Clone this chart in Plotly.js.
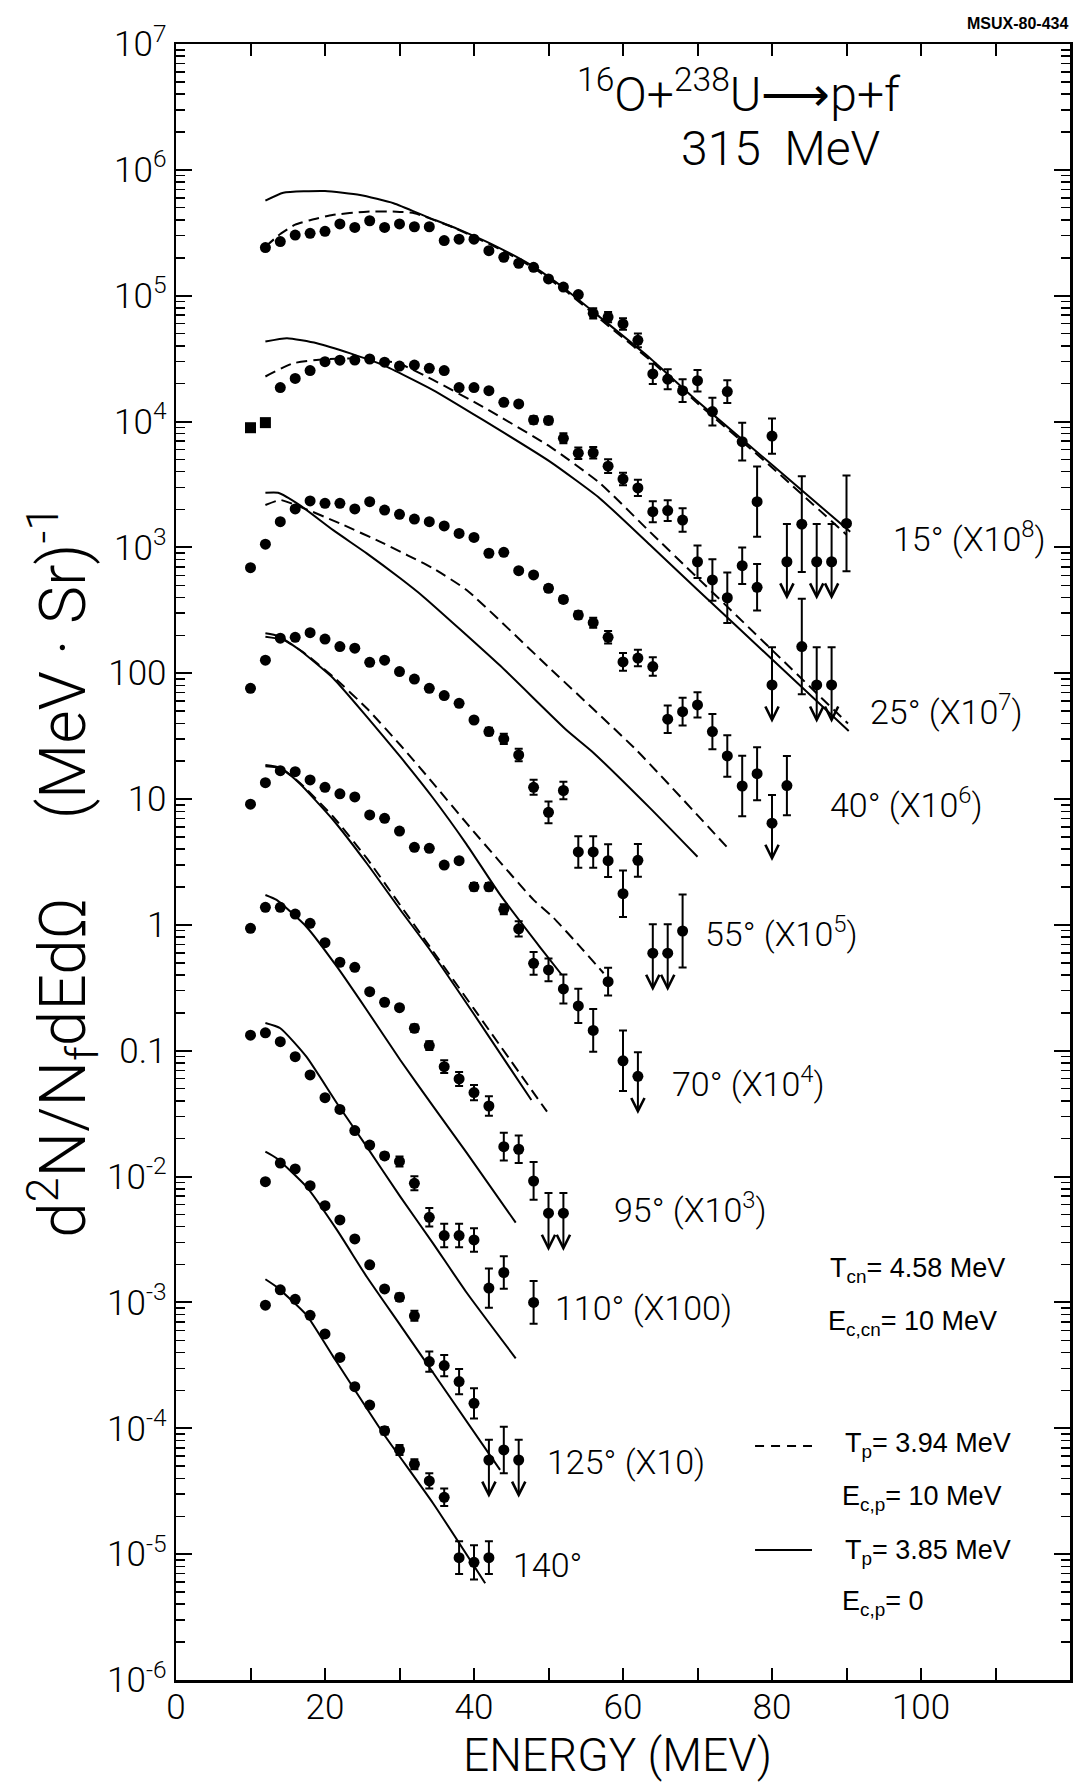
<!DOCTYPE html>
<html>
<head>
<meta charset="utf-8">
<script src="https://cdn.plot.ly/plotly-3.0.1.min.js"></script>
<style>
  html, body { margin: 0; padding: 0; background: #fff; }
  #chart { width: 1078px; height: 1786px; }
</style>
</head>
<body>
<div id="chart"></div>
<script>
// Proton spectra measured in coincidence with fission, 16O + 238U at 315 MeV.
// Every angle is plotted multiplied by the factor written beside it.
// ERRxx: half-length of each error bar in decades; LIMxx: energies that are upper limits.

// ---- 15 deg (x1e8) ----
const E15 = [12,14,16,18,20,22,24,26,28,30,32,34,36,38,40,42,44,46,48,50,52,54,56,58,60,62,64,66,68,70,72,74,76,78,80,82,84,86,88,90];
const Y15 = [2.41e5,2.69e5,3.03e5,3.13e5,3.25e5,3.72e5,3.49e5,3.94e5,3.49e5,3.72e5,3.53e5,3.53e5,2.74e5,2.81e5,2.81e5,2.28e5,2.02e5,1.81e5,1.68e5,1.36e5,1.17e5,1.02e5,7.24e4,6.76e4,5.96e4,4.42e4,2.39e4,2.17e4,1.76e4,2.11e4,1.20e4,1.73e4,6.92e3,2.31e3,7.67e3,769,1.53e3,769,769,1.55e3];
const ERR15 = [0,0,0,0,0,0,0,0,0,0,0,0,0,0,0,0,0,0,0,0,0,0,0.04,0.04,0.045,0.055,0.08,0.08,0.09,0.085,0.11,0.09,0.15,0.28,0.14,0.30,0.38,0.30,0.30,0.38];
const LIM15 = [82,86,88];

// ---- 25 deg (x1e7) ----
const E25 = [10,12,14,16,18,20,22,24,26,28,30,32,34,36,38,40,42,44,46,48,50,52,54,56,58,60,62,64,66,68,70,72,74,76,78,80,84,86,88];
const Y25 = [8.93e3,9.8e3,1.86e4,2.20e4,2.54e4,2.99e4,3.07e4,3.08e4,3.14e4,2.96e4,2.76e4,2.81e4,2.65e4,2.54e4,1.86e4,1.86e4,1.76e4,1.42e4,1.38e4,1.03e4,1.02e4,7.36e3,5.60e3,5.65e3,4.42e3,3.49e3,2.97e3,1.92e3,1.96e3,1.65e3,769,551,398,716,482,80.7,163,80.7,80.7];
const ERR25 = [0,0,0,0,0,0,0,0,0,0,0,0,0,0,0,0,0,0,0,0.03,0.03,0.04,0.045,0.045,0.055,0.05,0.065,0.083,0.083,0.093,0.13,0.165,0.2,0.145,0.185,0.3,0.38,0.3,0.3];
const LIM25 = [80,86,88];
const SQUARE25 = [10,12];

// ---- 40 deg (x1e6) ----
const E40 = [10,12,14,16,18,20,22,24,26,28,30,32,34,36,38,40,42,44,46,48,50,52,54,56,58,60,62,64,66,68,70,72,74,76,78,80,82];
const Y40 = [690,1.06e3,1.60e3,2.02e3,2.34e3,2.24e3,2.24e3,2.02e3,2.31e3,1.98e3,1.83e3,1.68e3,1.60e3,1.48e3,1.29e3,1.20e3,898,914,653,604,473,386,290,252,193,123,132,113,43.1,49.5,56.0,34.4,22.0,12.7,15.9,6.43,12.8];
const ERR40 = [0,0,0,0,0,0,0,0,0,0,0,0,0,0,0,0,0,0,0,0,0.025,0.025,0.03,0.04,0.05,0.07,0.066,0.073,0.11,0.11,0.1,0.14,0.165,0.24,0.21,0.225,0.235];
const LIM40 = [80];

// ---- 55 deg (x1e5) ----
const E55 = [10,12,14,16,18,20,22,24,26,28,30,32,34,36,38,40,42,44,46,48,50,52,54,56,58,60,62,64,66,68];
const Y55 = [75.9,127,190,193,210,187,163,158,122,127,103,89.9,75.9,66.4,57.7,42.5,34.4,30.1,22.4,12.4,7.85,11.7,3.80,3.80,3.24,1.77,3.26,0.596,0.596,0.895];
const ERR55 = [0,0,0,0,0,0,0,0,0,0,0,0,0,0,0,0,0.03,0.04,0.05,0.06,0.086,0.07,0.125,0.125,0.13,0.185,0.13,0.23,0.23,0.29];
const LIM55 = [64,66];

// ---- 70 deg (x1e4) ----
const E70 = [10,12,14,16,18,20,22,24,26,28,30,32,34,36,38,40,42,44,46,48,50,52,54,56,58,60,62];
const Y70 = [9.10,13.5,16.8,16.5,14.2,12.4,11.0,10.4,7.48,7.03,5.57,4.14,4.06,2.99,3.24,2.01,2.01,1.33,0.931,0.495,0.439,0.310,0.227,0.145,0.354,0.0832,0.0627];
const ERR70 = [0,0,0,0,0,0,0,0,0,0,0,0,0,0,0,0.03,0.03,0.04,0.06,0.09,0.09,0.115,0.136,0.17,0.11,0.24,0.19];
const LIM70 = [62];

// ---- 95 deg (x1e3) ----
const E95 = [10,12,14,16,18,20,22,24,26,28,30,32,34,36,38,40,42,44,46,48,50,52];
const Y95 = [0.940,1.38,1.38,1.22,1.03,0.723,0.505,0.460,0.295,0.243,0.220,0.151,0.110,0.0748,0.0597,0.0465,0.0364,0.0173,0.0165,0.00923,0.00512,0.00512];
const ERR95 = [0,0,0,0,0,0,0,0,0,0,0,0.03,0.035,0.05,0.055,0.06,0.077,0.11,0.11,0.15,0.16,0.16];
const LIM95 = [50,52];

// ---- 110 deg (x100) ----
const E110 = [10,12,14,16,18,20,22,24,26,28,30,32,34,36,38,40,42,44,48];
const Y110 = [0.133,0.139,0.118,0.0897,0.0643,0.0424,0.0342,0.0232,0.0178,0.0146,0.0132,0.00885,0.00475,0.00340,0.00340,0.00314,0.00130,0.00173,0.00100];
const ERR110 = [0,0,0,0,0,0,0,0,0.02,0.025,0.04,0.055,0.073,0.093,0.093,0.093,0.155,0.13,0.17];
const LIM110 = [];

// ---- 125 deg (x10) ----
const E125 = [12,14,16,18,20,22,24,26,28,30,32,34,36,38,40,42,44,46];
const Y125 = [0.00912,0.0128,0.0115,0.00847,0.00587,0.00453,0.00320,0.00199,0.00128,0.00110,7.83e-4,3.39e-4,3.15e-4,2.35e-4,1.58e-4,5.60e-5,6.73e-5,5.60e-5];
const ERR125 = [0,0,0,0,0,0,0,0,0,0.03,0.04,0.08,0.085,0.1,0.12,0.16,0.185,0.16];
const LIM125 = [42,46];

// ---- 140 deg ----
const E140 = [12,14,16,18,20,22,24,26,28,30,32,34,36,38,40,42];
const Y140 = [9.51e-4,1.26e-3,1.06e-3,7.91e-4,5.62e-4,3.66e-4,2.14e-4,1.53e-4,9.57e-5,6.73e-5,5.18e-5,3.82e-5,2.83e-5,9.38e-6,8.61e-6,9.38e-6];
const ERR140 = [0,0,0,0,0,0,0,0,0.03,0.04,0.04,0.06,0.07,0.13,0.136,0.13];
const LIM140 = [];

// ---- model curves: solid (Tp = 3.85 MeV, Ec,p = 0), dashed (Tp = 3.94 MeV, Ec,p = 10 MeV) ----
const SOL15E = [12,14.4,20,24.7,29.2,33.6,38.1,43.5,48,52.4,57,63.6,70,80,90.5];
const SOL15Y = [5.69e5,6.58e5,6.79e5,6.31e5,5.43e5,4.25e5,3.33e5,2.38e5,1.70e5,1.11e5,6.68e4,3.20e4,1.45e4,4.53e3,1.33e3];
const DSH15E = [12,14,16,18,21,25.6,29.6,32,37.2,43.5,48,52.4,57,63.6,70,80,90];
const DSH15Y = [2.45e5,3.09e5,3.67e5,3.98e5,4.38e5,4.65e5,4.65e5,4.52e5,3.49e5,2.34e5,1.66e5,1.08e5,6.46e4,3.09e4,1.40e4,4.32e3,1.26e3];

const SOL25E = [12,14.9,18.9,23.4,27.8,34.5,41.2,50.2,56.9,63.6,70,80,90.3];
const SOL25Y = [4.32e4,4.59e4,4.19e4,3.48e4,2.81e4,1.78e4,1.03e4,4.80e3,2.45e3,1.05e3,461,129,34.7];
const DSH25E = [12,15.7,19.8,25.6,30,34.5,41.2,50.2,56.9,63.6,70,80,90.2];
const DSH25Y = [2.28e4,2.90e4,3.12e4,3.18e4,2.88e4,2.14e4,1.31e4,6.31e3,3.24e3,1.33e3,573,153,39.8];

const SOL40E = [12,13.7,16.6,21.1,25.6,30.1,33.2,43.5,52.4,55.8,63.6,70];
const SOL40Y = [2.72e3,2.72e3,2.17e3,1.37e3,897,568,406,115,35.4,24.0,8.51,3.48];
const DSH40E = [12,14,16.6,22,27.8,34.5,39,50,61.8,73.9];
const DSH40Y = [2.17e3,2.38e3,2.11e3,1.55e3,1.08e3,681,459,112,24.5,4.19];

const SOL55E = [12,13.7,16.6,21.1,25.6,30.1,34.5,39,43.5,48.9,51.8];
const SOL55Y = [208,198,153,91.2,45.2,21.7,10.2,4.37,1.74,0.661,0.400];
const DSH55E = [12,14.4,17,21.1,25.6,30.1,34.5,39,43.5,48,50.6,54.2,57.4];
const DSH55Y = [195,184,148,93.8,52.7,26.9,13.4,6.43,3.16,1.58,1.15,0.676,0.413];

const SOL70E = [12,14,16.6,21.1,25.6,30.1,34.1,40,47.7];
const SOL70Y = [18.7,17.8,13.3,6.82,3.09,1.32,0.632,0.195,0.0406];
const DSH70E = [12,14,16.6,21.1,25.6,29.6,34.5,40,49.8];
const DSH70Y = [18.2,17.6,13.5,7.24,3.39,1.58,0.617,0.215,0.0328];

const SOL95E = [12,13.5,17.5,21.6,25.6,30.1,34.5,39,45.6];
const SOL95Y = [1.73,1.58,0.968,0.466,0.211,0.0845,0.0363,0.0155,0.00431];

const SOL110E = [12,14,17.5,21.6,25.6,30.1,34.5,39,45.6];
const SOL110Y = [0.166,0.151,0.0897,0.0383,0.0173,0.00693,0.00295,0.00120,3.60e-4];

const SOL125E = [12,13.5,17.5,21.6,25.6,30.1,35,43.5];
const SOL125Y = [0.0158,0.0140,0.00832,0.00377,0.00160,6.61e-4,2.51e-4,4.67e-5];

const SOL140E = [12,13.5,17.5,21.1,27.8,34.5,41.5];
const SOL140Y = [1.53e-3,1.33e-3,7.96e-4,3.71e-4,9.14e-5,2.54e-5,5.87e-6];

// ---- axis ticks ----
const X_TICKS = [0,20,40,60,80,100];
const X_MINOR = [10,30,50,70,90,110];
const Y_TICKS = [1e7,1e6,1e5,1e4,1e3,100,10,1,0.1,1e-2,1e-3,1e-4,1e-5,1e-6];
const Y_LABELS = ['10<sup>7</sup>','10<sup>6</sup>','10<sup>5</sup>','10<sup>4</sup>','10<sup>3</sup>','100','10','1','0.1',
                  '10<sup>-2</sup>','10<sup>-3</sup>','10<sup>-4</sup>','10<sup>-5</sup>','10<sup>-6</sup>'];

// ---- drawing ----
const PLOT_FONT = 'Roboto, "Liberation Sans", Arial, sans-serif';
const NOTE_FONT = '"Liberation Sans", Arial, sans-serif';
const INK = '#000';
const DASH = '11px,6px';
const ARROW_DECADES = 0.3;

const SERIES = [
  {E:E15,  Y:Y15,  ERR:ERR15,  LIM:LIM15,  sol:[SOL15E,SOL15Y],   dsh:[DSH15E,DSH15Y]},
  {E:E25,  Y:Y25,  ERR:ERR25,  LIM:LIM25,  sol:[SOL25E,SOL25Y],   dsh:[DSH25E,DSH25Y], square:SQUARE25},
  {E:E40,  Y:Y40,  ERR:ERR40,  LIM:LIM40,  sol:[SOL40E,SOL40Y],   dsh:[DSH40E,DSH40Y]},
  {E:E55,  Y:Y55,  ERR:ERR55,  LIM:LIM55,  sol:[SOL55E,SOL55Y],   dsh:[DSH55E,DSH55Y]},
  {E:E70,  Y:Y70,  ERR:ERR70,  LIM:LIM70,  sol:[SOL70E,SOL70Y],   dsh:[DSH70E,DSH70Y]},
  {E:E95,  Y:Y95,  ERR:ERR95,  LIM:LIM95,  sol:[SOL95E,SOL95Y]},
  {E:E110, Y:Y110, ERR:ERR110, LIM:LIM110, sol:[SOL110E,SOL110Y]},
  {E:E125, Y:Y125, ERR:ERR125, LIM:LIM125, sol:[SOL125E,SOL125Y]},
  {E:E140, Y:Y140, ERR:ERR140, LIM:LIM140, sol:[SOL140E,SOL140Y]}
];

function curve(x, y, dash) {
  return {
    type: 'scatter', mode: 'lines', x: x, y: y, hoverinfo: 'skip', showlegend: false,
    line: {color: INK, width: 2, dash: dash, shape: 'spline', smoothing: 0.5}
  };
}

const traces = [];
SERIES.forEach(s => {
  if (s.sol) traces.push(curve(s.sol[0], s.sol[1], 'solid'));
  if (s.dsh) traces.push(curve(s.dsh[0], s.dsh[1], DASH));
});

const annotations = [];
SERIES.forEach(s => {
  const up = s.Y.map((y, i) => y * (Math.pow(10, s.ERR[i]) - 1));
  const dn = s.Y.map((y, i) => s.LIM.includes(s.E[i]) ? 0 : y * (1 - Math.pow(10, -s.ERR[i])));
  const sym = s.E.map(e => (s.square && s.square.includes(e)) ? 'square' : 'circle');
  traces.push({
    type: 'scatter', mode: 'markers', x: s.E, y: s.Y, showlegend: false, hoverinfo: 'skip',
    marker: {symbol: sym, size: 11, color: INK, line: {width: 0}},
    error_y: {type: 'data', symmetric: false, array: up, arrayminus: dn, color: INK, thickness: 2, width: 4}
  });
  // downward arrows on the upper-limit points
  s.LIM.forEach(e => {
    const i = s.E.indexOf(e);
    const ly = Math.log10(s.Y[i]);
    annotations.push({
      x: e, y: ly - ARROW_DECADES, xref: 'x', yref: 'y',
      ax: e, ay: ly, axref: 'x', ayref: 'y',
      text: '', showarrow: true, arrowhead: 5, arrowsize: 1.3, arrowwidth: 2, arrowcolor: INK
    });
  });
});

// angle labels, placed beside the end of each spectrum
const ANGLE_LABELS = [
  ['15° (X10<sup>8</sup>)', 96.0, 3.08],
  ['25° (X10<sup>7</sup>)', 92.9, 1.71],
  ['40° (X10<sup>6</sup>)', 87.5, 0.97],
  ['55° (X10<sup>5</sup>)', 70.7, -0.06],
  ['70° (X10<sup>4</sup>)', 66.3, -1.25],
  ['95° (X10<sup>3</sup>)', 58.5, -2.25],
  ['110° (X100)', 50.6, -3.04],
  ['125° (X10)', 49.5, -4.27],
  ['140°', 45.0, -5.09]
];
ANGLE_LABELS.forEach(([t, x, y]) => annotations.push({
  text: t, x: x, y: y, xref: 'x', yref: 'y', xanchor: 'left', yanchor: 'middle', showarrow: false,
  font: {family: PLOT_FONT, size: 34, weight: 300, color: INK}
}));

function paperText(t, x, y, size, opts) {
  return Object.assign({
    text: t, x: x, y: y, xref: 'paper', yref: 'paper', showarrow: false,
    xanchor: 'left', yanchor: 'middle',
    font: {family: NOTE_FONT, size: size, color: INK}
  }, opts || {});
}

// reaction and beam energy
annotations.push(paperText('<sup>16</sup>O+<sup>238</sup>U⟶p+f', 0.630, 0.971, 48,
  {xanchor: 'center', font: {family: PLOT_FONT, size: 48, weight: 300, color: INK}}));
annotations.push(paperText('315\u00A0\u00A0MeV', 0.676, 0.936, 48,
  {xanchor: 'center', font: {family: PLOT_FONT, size: 48, weight: 300, color: INK}}));
// figure number
annotations.push(paperText('MSUX-80-434', 1.0, 1.0128, 16,
  {xanchor: 'right', font: {family: NOTE_FONT, size: 16, weight: 700, color: INK}}));
// axis titles
annotations.push(paperText('ENERGY (MEV)', 0.494, -0.0458, 46,
  {xanchor: 'center', font: {family: PLOT_FONT, size: 46, weight: 300, color: INK}}));
annotations.push(paperText('d<sup>2</sup>N/N<sub>f</sub>dEdΩ\u00A0\u00A0\u00A0\u00A0\u00A0(MeV · Sr)<sup>-1</sup>', -0.1264, 0.494, 64,
  {xanchor: 'center', textangle: -90, font: {family: PLOT_FONT, size: 64, weight: 300, color: INK}}));
// model parameters
annotations.push(paperText('T<sub>cn</sub>= 4.58 MeV', 0.729, 0.2506, 27));
annotations.push(paperText('E<sub>c,cn</sub>= 10 MeV', 0.727, 0.2182, 27));
annotations.push(paperText('T<sub>p</sub>= 3.94 MeV', 0.746, 0.1436, 27));
annotations.push(paperText('E<sub>c,p</sub>= 10 MeV', 0.7427, 0.1112, 27));
annotations.push(paperText('T<sub>p</sub>= 3.85 MeV', 0.746, 0.0782, 27));
annotations.push(paperText('E<sub>c,p</sub>= 0', 0.7427, 0.0471, 27));

const shapes = [
  {type: 'line', xref: 'paper', yref: 'paper', x0: 0.6477, x1: 0.7114, y0: 0.143, y1: 0.143,
   line: {color: INK, width: 2, dash: '9px,7px'}},
  {type: 'line', xref: 'paper', yref: 'paper', x0: 0.6477, x1: 0.7114, y0: 0.0795, y1: 0.0795,
   line: {color: INK, width: 2}}
];

const yMinor = [];
for (let k = -6; k < 7; k++) for (let m = 2; m <= 9; m++) yMinor.push(m * Math.pow(10, k));

const layout = {
  width: 1078, height: 1786,
  margin: {l: 176, r: 8, t: 44, b: 106, pad: 0},
  paper_bgcolor: '#fff', plot_bgcolor: '#fff',
  showlegend: false, hovermode: false,
  xaxis: {
    range: [0, 120], showgrid: false, zeroline: false,
    showline: true, linecolor: INK, linewidth: 2.5, mirror: 'ticks',
    ticks: 'inside', ticklen: 12, tickwidth: 2, tickcolor: INK,
    tickmode: 'array', tickvals: X_TICKS, ticklabelstandoff: -6,
    tickfont: {family: PLOT_FONT, size: 35, weight: 300, color: INK},
    minor: {tickmode: 'array', tickvals: X_MINOR, ticks: 'inside', ticklen: 12, tickwidth: 2, tickcolor: INK, showgrid: false}
  },
  yaxis: {
    type: 'log', range: [-6, 7], showgrid: false, zeroline: false,
    showline: true, linecolor: INK, linewidth: 2.5, mirror: 'ticks',
    ticks: 'inside', ticklen: 16, tickwidth: 2, tickcolor: INK,
    tickmode: 'array', tickvals: Y_TICKS, ticktext: Y_LABELS,
    tickfont: {family: PLOT_FONT, size: 35, weight: 300, color: INK},
    minor: {tickmode: 'array', tickvals: yMinor, ticks: 'inside', ticklen: 9, tickwidth: 1.5, tickcolor: INK, showgrid: false}
  },
  annotations: annotations,
  shapes: shapes
};

Plotly.newPlot('chart', traces, layout, {staticPlot: true, displayModeBar: false});
</script>
</body>
</html>
